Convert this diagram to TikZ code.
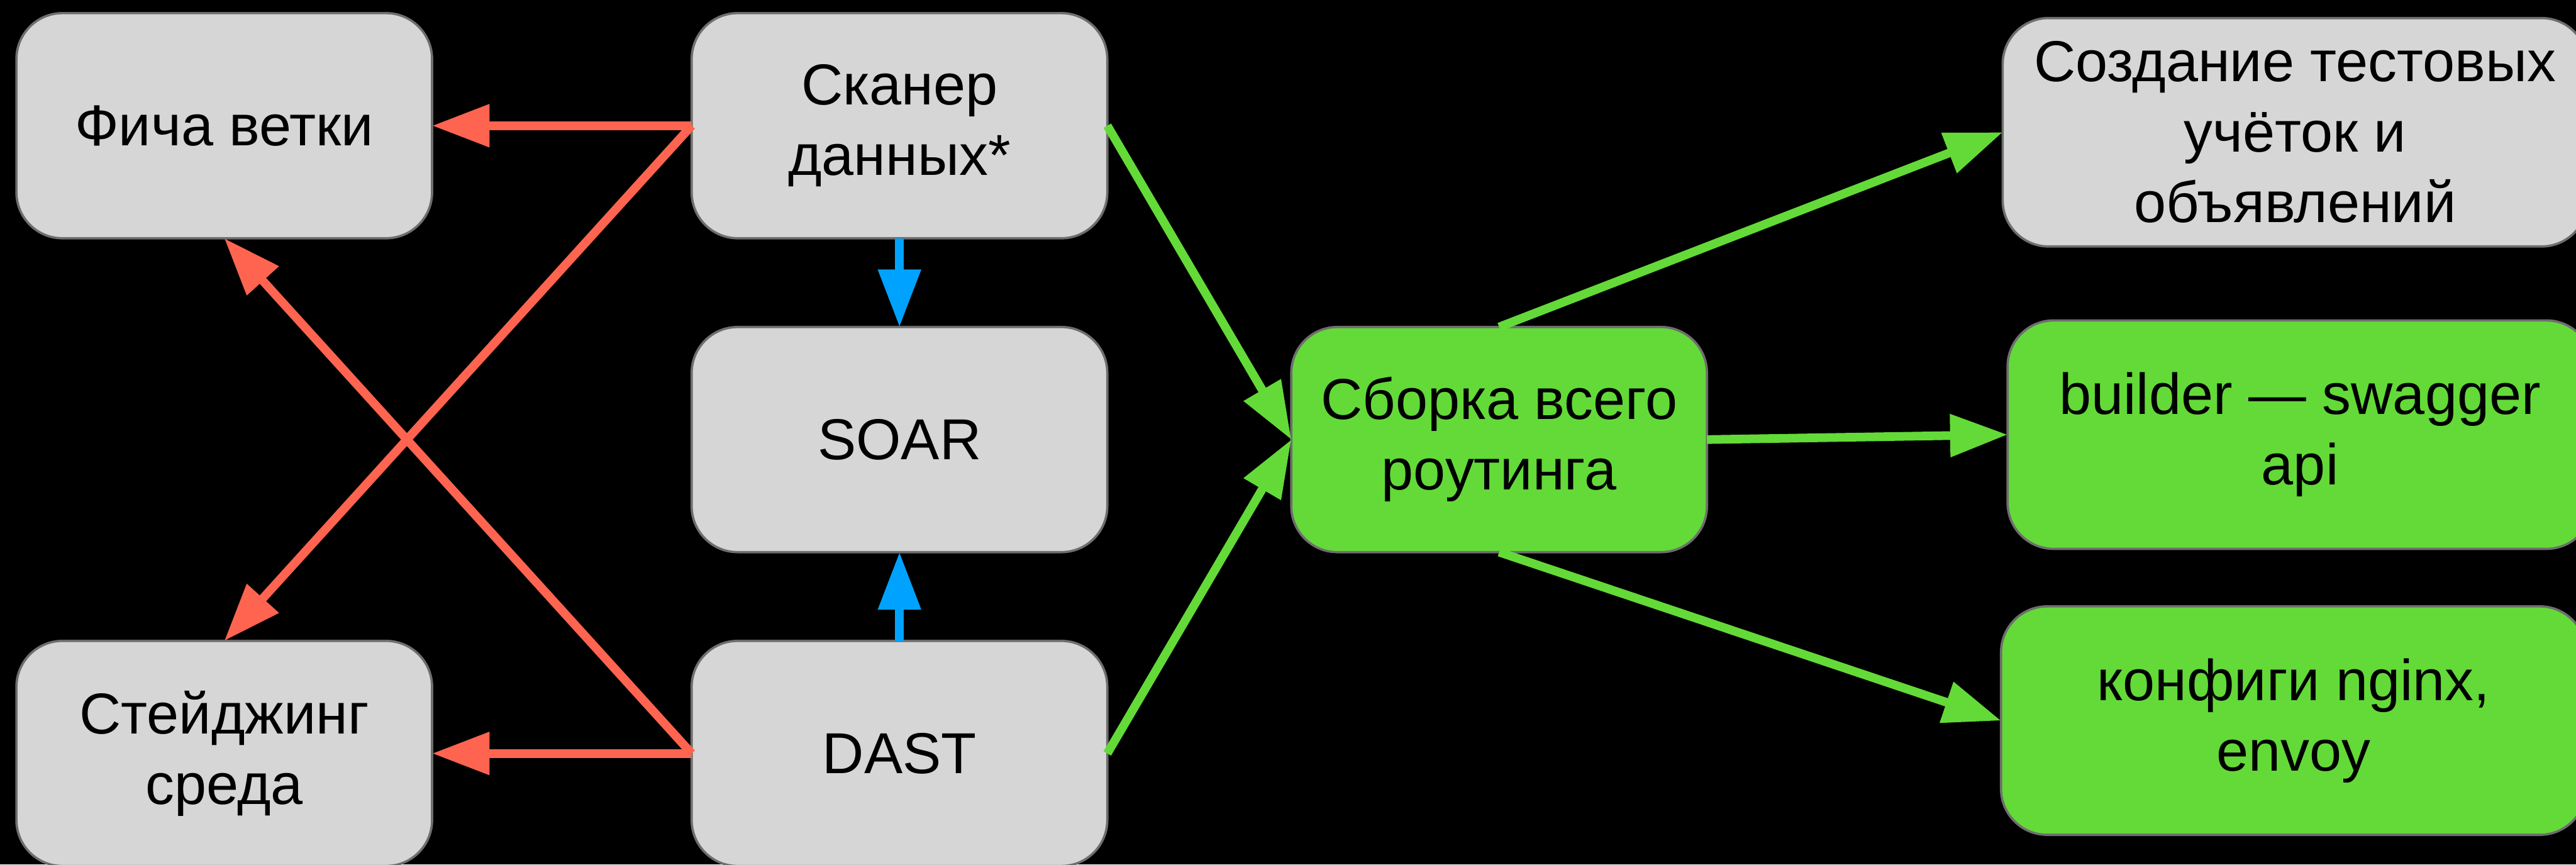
\documentclass[tikz,border=0pt]{standalone}
\usepackage{fontspec}
\setmainfont{Liberation Sans}
\usepackage{xcolor}
\usepackage{tikz}
\usetikzlibrary{arrows.meta, positioning}

\definecolor{boxgray}{HTML}{D6D6D6}
\definecolor{boxline}{HTML}{6E6E6E}
\definecolor{routegreen}{HTML}{63DA38}
\definecolor{fixred}{HTML}{FF6450}
\definecolor{feedblue}{HTML}{00A2FF}

\begin{document}
\begin{tikzpicture}[
  >={Triangle[length=3.5mm, width=2.5mm]},
  box/.style={draw=boxline, line width=0.4pt, fill=boxgray, rounded corners=2.8mm, align=center,
    minimum width=25.3mm, minimum height=13.7mm, inner sep=2pt, outer sep=0pt,
    font=\fontsize{10}{12.2}\selectfont},
  wide/.style={box, minimum width=35.6mm, minimum height=13.9mm},
  done/.style={fill=routegreen},
  redlink/.style={->, line width=1.5pt, draw=fixred, fill=fixred},
  bluelink/.style={->, line width=1.5pt, draw=feedblue, fill=feedblue},
  greenlink/.style={->, line width=1.5pt, draw=routegreen, fill=routegreen}]
\path[use as bounding box, fill=black] (0,0) rectangle (15.68,5.26);
\node[box] (feat) at (1.365,4.495) {Фича ветки};
\node[box, right=15.8mm of feat] (scan) {Сканер\\данных*};
\node[box, below=5.4mm of scan] (soar) {SOAR};
\node[box, below=5.4mm of soar] (dast) {DAST};
\node[box, left=15.8mm of dast] (stage) {Стейджинг\\среда};
\node[box, done, right=11.2mm of soar] (build) {Сборка всего\\роутинга};
\node[wide, done, right=18.3mm of build, yshift=0.3mm] (swag) {builder — swagger\\api};
\node[wide, above=4.5mm of swag, xshift=-0.3mm] (accs) {Создание тестовых\\учёток и\\объявлений};
\node[wide, done, below=3.5mm of swag, xshift=-0.4mm] (conf) {конфиги nginx,\\envoy};
\draw[redlink] (scan.west) -- (feat.east);
\draw[redlink] (scan.west) -- (stage.north);
\draw[redlink] (dast.west) -- (feat.south);
\draw[redlink] (dast.west) -- (stage.east);
\draw[bluelink] (scan.south) -- (soar.north);
\draw[bluelink] (dast.north) -- (soar.south);
\draw[greenlink] (scan.east) -- (build.west);
\draw[greenlink] (dast.east) -- (build.west);
\draw[greenlink] (build.north) -- (accs.west);
\draw[greenlink] (build.east) -- (swag.west);
\draw[greenlink] (build.south) -- (conf.west);
\end{tikzpicture}
\end{document}
